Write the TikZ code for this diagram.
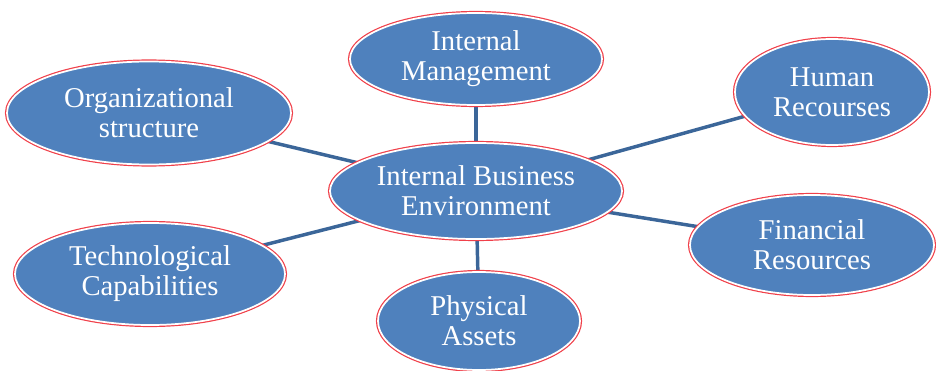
\documentclass[tikz,border=0pt]{standalone}
\usepackage{fontspec}
\setmainfont{Liberation Serif}
\usetikzlibrary{shapes.geometric}
\definecolor{bubblefill}{HTML}{4F81BD}
\definecolor{bubbleedge}{HTML}{F0404A}
\definecolor{spoke}{HTML}{3B6699}

\begin{document}
\begin{tikzpicture}[x=0.75pt,y=-0.75pt,
  bubble/.style={ellipse,fill=bubblefill,draw=white,line width=1.3pt,
    preaction={draw=bubbleedge,line width=3.1pt},
    text=white,align=center,inner sep=0pt,
    font=\fontsize{21.5}{22.5}\selectfont},
  link/.style={draw=spoke,line width=2.6pt}]
\useasboundingbox (0,0) rectangle (936,371);
%\draw[help lines,step=50] (0,0) grid (936,371);
% spokes first, so the bubbles sit on top of them
\coordinate (cIBE) at (476,191);
\coordinate (cMgmt) at (476,59);
\coordinate (cHuman) at (832,92);
\coordinate (cOrg) at (149,113);
\coordinate (cFin) at (812,245);
\coordinate (cTech) at (150,274);
\coordinate (cPhys) at (479,321);
\foreach \c in {cMgmt,cHuman,cOrg,cFin,cTech,cPhys}
  \draw[link] (cIBE) -- (\c);
\node[bubble,minimum width=252*0.75pt,minimum height=92*0.75pt] (mgmt) at (cMgmt) {Internal\\Management};
\node[bubble,minimum width=194*0.75pt,minimum height=106*0.75pt] (human) at (cHuman) {Human\\Recourses};
\node[bubble,minimum width=284*0.75pt,minimum height=103*0.75pt] (org) at (cOrg) {Organizational\\structure};
\node[bubble,minimum width=292*0.75pt,minimum height=96*0.75pt] (ibe) at (cIBE) {Internal Business\\Environment};
\node[bubble,minimum width=244*0.75pt,minimum height=100*0.75pt] (fin) at (cFin) {Financial\\Resources};
\node[bubble,minimum width=270*0.75pt,minimum height=102*0.75pt] (tech) at (cTech) {Technological\\Capabilities};
\node[bubble,minimum width=202*0.75pt,minimum height=98*0.75pt] (phys) at (cPhys) {Physical\\Assets};
\end{tikzpicture}
\end{document}
